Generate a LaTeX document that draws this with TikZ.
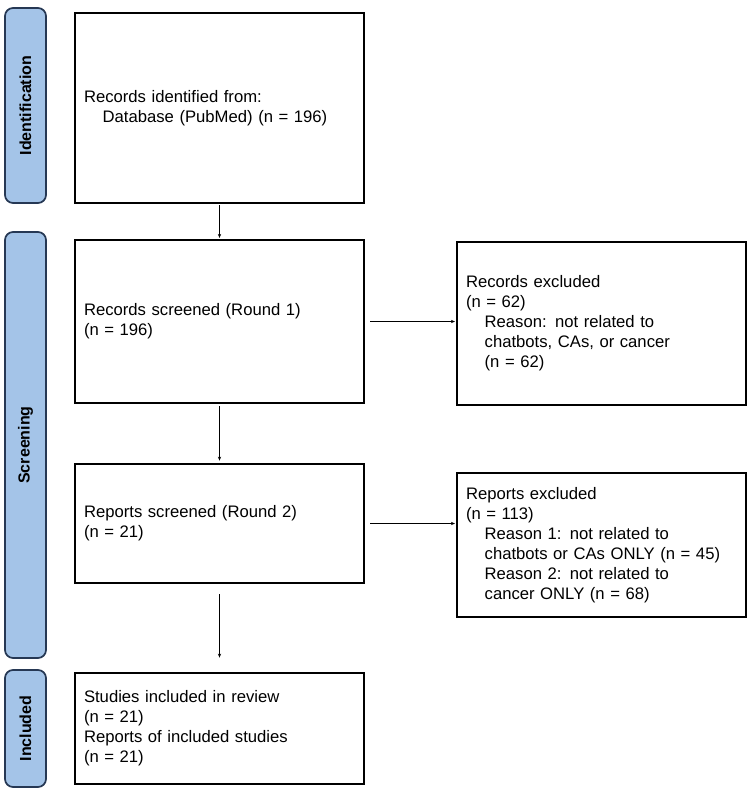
\documentclass[tikz,border=0pt]{standalone}
\usepackage{fontspec}
\setmainfont{Liberation Sans}
\usetikzlibrary{arrows.meta}
\definecolor{phase}{RGB}{164,196,232}
\definecolor{phaseline}{RGB}{38,56,84}
\begin{document}
\begin{tikzpicture}[x=0.75pt,y=0.75pt,yscale=-1,xscale=1,
  box/.style={draw, line width=1.1pt, rectangle, minimum width=216.75pt, text width=203.25pt,
    inner xsep=6.75pt, align=left, font=\fontsize{12.5}{15}\selectfont},
  phasebox/.style={draw=phaseline, fill=phase, line width=1.3pt, rounded corners=6pt,
    minimum width=30.75pt, rotate=90, font=\bfseries\fontsize{12}{14}\selectfont},
  flow/.style={-{Stealth[length=3pt,width=2.5pt]}, line width=0.5pt}]
\useasboundingbox (0,0) rectangle (750,797);

%Phase bars
\node [phasebox, minimum width=146.25pt, minimum height=30.75pt] (ident) at (25.5,105.5) {Identification};
\node [phasebox, minimum width=319.5pt, minimum height=30.75pt] (screen) at (25.5,445) {Screening};
\node [phasebox, minimum width=87.75pt, minimum height=30.75pt] (incl) at (25.5,728.5) {Included};

%Boxes
\node [box, minimum height=142.5pt] (found) at (219.5,108) {Records identified from:\\\hspace*{14pt}Database (PubMed) (n = 196)};
\node [box, minimum height=122.25pt] (round1) at (219.5,321.5) {Records screened (Round 1)\\(n = 196)};
\node [box, minimum height=122.25pt] (excl1) at (601.5,323.5) {Records excluded\\(n = 62)\\\hspace*{14pt}Reason: not related to\\\hspace*{14pt}chatbots, CAs, or cancer\\\hspace*{14pt}(n = 62)\\[8pt]};
\node [box, minimum height=89.25pt] (round2) at (219.5,523.5) {Reports screened (Round 2)\\(n = 21)};
\node [box, minimum height=108pt] (excl2) at (601.5,545) {Reports excluded\\(n = 113)\\\hspace*{14pt}Reason 1: not related to\\\hspace*{14pt}chatbots or CAs ONLY (n = 45)\\\hspace*{14pt}Reason 2: not related to\\\hspace*{14pt}cancer ONLY (n = 68)};
\node [box, minimum height=83.25pt] (review) at (219.5,728.5) {Studies included in review\\(n = 21)\\Reports of included studies\\(n = 21)};

%Arrows
\draw [flow, shorten <=1pt, shorten >=1pt] (found) -- (round1);
\draw [flow, shorten <=2pt, shorten >=2pt] (round1) -- (round2);
\draw [flow, shorten <=8pt, shorten >=11pt] (round2) -- (review);
\draw [flow, shorten <=4pt, shorten >=1pt] (round1.east) -- (round1.east -| excl1.west);
\draw [flow, shorten <=4pt, shorten >=1pt] (round2.east) -- (round2.east -| excl2.west);
\end{tikzpicture}
\end{document}
